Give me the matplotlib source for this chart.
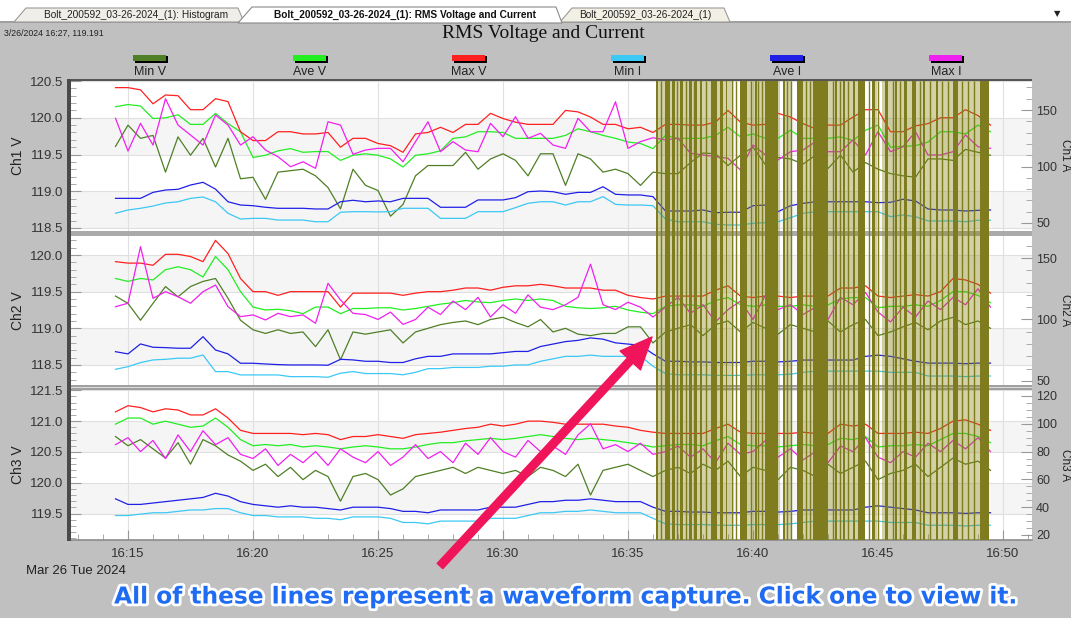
import matplotlib
matplotlib.use("Agg")
import matplotlib.pyplot as plt
import matplotlib.patheffects as pe
from matplotlib.patches import Rectangle, Polygon, FancyArrowPatch
from matplotlib.ticker import MultipleLocator, FixedLocator, FormatStrFormatter
import numpy as np

plt.rcParams['font.family'] = ['Liberation Sans', 'DejaVu Sans']

W, H = 1071, 618

# sample times, minutes past 16:00 (one every 30 s)
t = np.arange(14.5, 49.51, 0.5)

# ---- Ch1 ----
ch1_maxv = [120.41, 120.41, 120.38, 120.19, 120.31, 120.30, 120.11, 120.11, 120.26, 120.22,
            119.81, 119.69, 119.69, 119.81, 119.81, 119.78, 119.78, 119.80, 119.60, 119.72,
            119.72, 119.65, 119.62, 119.53, 119.78, 119.80, 119.87, 119.80, 119.91, 119.91,
            120.06, 119.99, 119.94, 119.91, 119.91, 119.91, 120.10, 120.08, 120.01, 119.91,
            119.91, 119.85, 119.87, 119.80,
            119.91, 119.91, 119.90, 119.90, 119.94, 120.10, 119.94, 119.90, 119.91, 120.06,
            120.01, 119.92, 119.85, 119.90, 119.90, 120.01, 120.11, 120.11, 119.81, 119.81,
            119.89, 119.92, 120.00, 120.00, 120.11, 120.03, 119.90]
ch1_avev = [120.15, 120.18, 120.16, 119.99, 120.00, 120.04, 119.91, 119.91, 120.06, 119.92,
            119.81, 119.46, 119.49, 119.55, 119.58, 119.53, 119.54, 119.54, 119.42, 119.49,
            119.51, 119.49, 119.44, 119.33, 119.49, 119.51, 119.55, 119.72, 119.74, 119.81,
            119.81, 119.80, 119.72, 119.72, 119.72, 119.72, 119.76, 119.85, 119.81, 119.76,
            119.72, 119.67, 119.65, 119.58,
            119.76, 119.72, 119.72, 119.72, 119.76, 119.87, 119.74, 119.78, 119.72, 119.72,
            119.83, 119.72, 119.72, 119.72, 119.74, 119.69, 119.83, 119.90, 119.60, 119.61,
            119.62, 119.67, 119.81, 119.81, 119.78, 119.90, 119.81]
ch1_minv = [119.61, 119.90, 119.72, 119.76, 119.26, 119.74, 119.49, 119.72, 119.33, 119.72,
            119.17, 119.19, 118.89, 119.26, 119.28, 119.30, 119.21, 119.05, 118.76, 119.30,
            119.08, 119.01, 118.66, 118.82, 119.21, 119.35, 119.35, 119.35, 119.53, 119.30,
            119.44, 119.51, 119.42, 119.21, 119.51, 119.51, 119.08, 119.51, 119.44, 119.26,
            119.30, 119.24, 119.08, 119.26,
            119.24, 119.24, 119.39, 119.52, 119.51, 119.35, 119.49, 119.60, 119.36, 119.46,
            119.44, 119.37, 119.49, 119.31, 119.49, 119.26, 119.39, 119.30, 119.24, 119.21,
            119.19, 119.44, 119.44, 119.42, 119.57, 119.53, 119.49]
ch1_maxi = [142.7, 113.7, 138.2, 119.0, 160.0, 136.7, 127.9, 119.0, 145.6, 136.7,
            119.0, 126.4, 114.6, 108.7, 99.8, 104.2, 98.4, 139.6, 136.7, 110.8,
            114.6, 116.1, 116.1, 104.2, 122.0, 139.6, 113.1, 122.0, 114.6, 113.1,
            138.2, 126.4, 144.1, 125.0, 129.4, 119.0, 116.1, 142.7, 130.8, 130.8,
            157.3, 116.1, 122.0, 125.5,
            123.5, 125.0, 111.7, 110.2, 108.7, 107.3, 96.9, 119.0, 110.2, 105.8,
            113.1, 114.6, 122.0, 113.1, 113.1, 123.5, 110.2, 130.8, 113.1, 117.5,
            130.8, 110.2, 110.2, 113.1, 127.9, 117.5, 116.1]
ch1_avei = [71.8, 71.8, 71.8, 77.1, 79.2, 79.8, 83.6, 86.0, 80.0, 68.8,
            65.9, 65.3, 63.9, 63.0, 63.0, 63.0, 62.4, 62.4, 68.8, 70.1,
            68.8, 69.5, 68.8, 71.8, 71.8, 71.8, 63.9, 63.9, 63.9, 70.4,
            70.4, 70.4, 72.4, 77.7, 78.3, 77.7, 75.4, 77.1, 77.1, 82.1,
            75.4, 74.8, 74.8, 73.3,
            60.6, 60.6, 60.6, 61.5, 59.1, 59.5, 59.5, 65.3, 65.9, 60.0,
            65.3, 67.4, 68.8, 68.8, 68.8, 68.8, 68.8, 68.0, 68.3, 71.0,
            69.5, 62.4, 61.5, 61.5, 60.6, 61.2, 61.5]
ch1_mini = [58.6, 61.5, 63.0, 65.0, 67.7, 68.8, 71.8, 73.0, 68.8, 58.6,
            53.5, 54.1, 54.1, 52.6, 52.6, 52.6, 51.1, 51.1, 59.5, 60.0,
            60.0, 59.8, 60.0, 63.0, 63.0, 63.0, 54.1, 54.1, 54.1, 60.0,
            60.0, 60.0, 63.6, 67.4, 68.8, 68.8, 65.9, 68.8, 68.8, 73.3,
            66.5, 65.9, 65.9, 65.3,
            53.5, 51.1, 51.1, 51.1, 48.8, 48.2, 48.2, 49.7, 50.3, 51.1,
            54.7, 58.6, 60.0, 60.0, 60.0, 60.0, 60.0, 60.0, 55.6, 57.1,
            55.6, 51.8, 51.8, 51.8, 51.1, 52.4, 52.4]

# ---- Ch2 ----
ch2_maxv = [119.91, 119.89, 119.89, 119.86, 120.01, 120.01, 119.98, 119.91, 120.20, 120.02,
            119.68, 119.50, 119.50, 119.45, 119.50, 119.50, 119.50, 119.50, 119.29, 119.48,
            119.48, 119.48, 119.48, 119.45, 119.48, 119.50, 119.50, 119.52, 119.55, 119.55,
            119.52, 119.56, 119.58, 119.58, 119.60, 119.58, 119.55, 119.55, 119.55, 119.52,
            119.52, 119.45, 119.42, 119.40,
            119.44, 119.44, 119.44, 119.44, 119.52, 119.58, 119.44, 119.42, 119.44, 119.44,
            119.42, 119.44, 119.44, 119.44, 119.55, 119.55, 119.58, 119.44, 119.42, 119.44,
            119.46, 119.44, 119.50, 119.68, 119.66, 119.60, 119.48]
ch2_avev = [119.68, 119.64, 119.68, 119.66, 119.80, 119.84, 119.80, 119.70, 119.98, 119.80,
            119.50, 119.29, 119.25, 119.26, 119.24, 119.20, 119.29, 119.29, 119.20, 119.27,
            119.27, 119.28, 119.28, 119.25, 119.27, 119.30, 119.33, 119.35, 119.38, 119.36,
            119.35, 119.38, 119.40, 119.38, 119.40, 119.38, 119.30, 119.28, 119.27, 119.28,
            119.30, 119.25, 119.22, 119.20,
            119.30, 119.32, 119.32, 119.30, 119.38, 119.42, 119.32, 119.30, 119.32, 119.30,
            119.30, 119.32, 119.30, 119.32, 119.40, 119.42, 119.42, 119.28, 119.30, 119.30,
            119.32, 119.30, 119.38, 119.50, 119.50, 119.45, 119.35]
ch2_minv = [119.44, 119.34, 119.11, 119.34, 119.57, 119.43, 119.57, 119.64, 119.68, 119.41,
            119.11, 118.98, 118.93, 118.98, 118.93, 118.95, 118.75, 118.98, 118.57, 118.95,
            118.92, 118.95, 118.98, 118.80, 118.95, 119.00, 119.05, 119.08, 119.10, 119.05,
            119.12, 119.15, 119.08, 119.02, 119.12, 118.95, 119.00, 118.92, 118.90, 118.93,
            118.93, 119.02, 119.02, 118.80,
            118.95, 119.00, 119.05, 118.90, 119.05, 119.10, 118.95, 119.08, 119.00, 118.92,
            119.05, 119.00, 118.95, 119.10, 118.95, 119.05, 119.12, 118.90, 118.95, 119.02,
            119.08, 118.98, 119.10, 119.15, 119.05, 119.10, 119.00]
ch2_maxi = [110.4, 113.2, 159.2, 117.2, 122.6, 118.5, 113.2, 122.6, 128.0, 110.4,
            102.3, 103.7, 99.6, 105.0, 102.3, 103.7, 96.9, 129.4, 115.9, 105.0,
            104, 100, 106, 96, 100, 110, 104, 115, 108, 118,
            102, 112, 105, 120, 110, 108, 112, 118, 145, 112,
            108, 114, 110, 102,
            110, 118, 105, 112, 98, 108, 115, 100, 120, 108,
            112, 104, 110, 100, 118, 112, 122, 106, 98, 110,
            102, 115, 108, 118, 112, 125, 110]
ch2_avei = [73.8, 72.0, 80.1, 77.4, 77.1, 76.6, 76.6, 86.0, 75.2, 72.0,
            64.4, 64.4, 63.8, 63.3, 63.0, 63.0, 63.0, 62.8, 67.6, 67.1,
            66, 66, 65, 65, 68, 70, 70, 72, 72, 72,
            72, 73, 74, 74, 78, 80, 82, 83, 85, 84,
            81, 80, 79, 72,
            66, 66, 65.5, 65.5, 65, 65, 65, 66, 66, 65.5,
            66, 67, 67, 67, 67, 67, 70, 71, 70, 68,
            66, 64.5, 64.5, 64.5, 64, 64.5, 64.5]
ch2_mini = [59.5, 61.6, 64.9, 67.1, 67.6, 68.5, 68.5, 71.1, 57.6, 57.6,
            54.9, 54.9, 54.9, 54.9, 53.5, 53.5, 53.5, 53.0, 56.3, 57.6,
            56, 56, 56, 55, 57, 60, 60, 61, 61, 61,
            62, 62, 63, 63, 66, 68, 70, 70, 71, 70,
            70, 70, 70, 62,
            56, 55, 55, 55, 54.5, 54.5, 54.5, 55, 55, 55,
            55.5, 57, 58, 58, 58, 58, 58, 58, 57, 57,
            57, 54, 54, 54, 53.5, 54, 54]

# ---- Ch3 ----
ch3_maxv = [121.15, 121.25, 121.22, 121.15, 121.20, 121.18, 121.10, 121.10, 121.20, 121.05,
            120.85, 120.80, 120.80, 120.80, 120.80, 120.78, 120.80, 120.78, 120.70, 120.75,
            120.75, 120.78, 120.75, 120.72, 120.78, 120.80, 120.82, 120.85, 120.88, 120.90,
            120.95, 120.92, 120.95, 121.00, 121.00, 120.98, 120.95, 120.95, 120.95, 120.95,
            120.92, 120.90, 120.85, 120.82,
            120.80, 120.80, 120.80, 120.80, 120.88, 120.95, 120.82, 120.80, 120.80, 120.80,
            120.80, 120.82, 120.80, 120.80, 120.95, 120.92, 120.95, 120.80, 120.80, 120.80,
            120.82, 120.80, 120.88, 121.00, 121.02, 120.95, 120.85]
ch3_avev = [120.95, 121.05, 121.05, 120.95, 121.00, 120.95, 120.90, 120.92, 121.05, 120.90,
            120.70, 120.60, 120.62, 120.60, 120.62, 120.58, 120.60, 120.58, 120.55, 120.58,
            120.60, 120.58, 120.55, 120.55, 120.58, 120.62, 120.65, 120.65, 120.68, 120.70,
            120.72, 120.70, 120.72, 120.75, 120.78, 120.75, 120.72, 120.70, 120.72, 120.70,
            120.68, 120.65, 120.62, 120.58,
            120.60, 120.62, 120.62, 120.60, 120.68, 120.75, 120.62, 120.60, 120.60, 120.58,
            120.60, 120.62, 120.60, 120.62, 120.72, 120.70, 120.75, 120.58, 120.60, 120.60,
            120.62, 120.60, 120.70, 120.80, 120.80, 120.75, 120.65]
ch3_minv = [120.75, 120.60, 120.70, 120.55, 120.40, 120.65, 120.30, 120.70, 120.60, 120.45,
            120.35, 120.20, 120.30, 120.10, 120.25, 120.05, 120.20, 120.10, 119.70, 120.10,
            120.15, 120.05, 119.80, 119.90, 120.10, 120.15, 120.20, 120.25, 120.15, 120.25,
            120.20, 120.15, 120.20, 120.10, 120.25, 120.20, 120.10, 120.30, 119.80, 120.20,
            120.25, 120.30, 120.20, 120.10,
            120.20, 120.25, 120.15, 120.30, 120.20, 120.35, 120.10, 120.25, 120.20, 120.05,
            120.25, 120.20, 120.10, 120.30, 120.15, 120.25, 120.35, 120.05, 120.15, 120.20,
            120.30, 120.10, 120.25, 120.40, 120.30, 120.35, 120.20]
ch3_maxi = [85, 90, 80, 88, 75, 92, 80, 95, 85, 90,
            78, 75, 82, 70, 78, 72, 80, 70, 82, 76,
            72, 80, 70, 76, 85, 75, 80, 72, 86, 78,
            90, 80, 76, 88, 80, 84, 78, 92, 100, 82,
            85, 80, 86, 78,
            80, 84, 76, 82, 72, 86, 78, 80, 88, 76,
            82, 74, 80, 72, 84, 80, 90, 76, 72, 80,
            76, 86, 80, 88, 82, 90, 80]
ch3_avei = [46, 42, 42, 43, 44, 45, 46, 47, 50, 48,
            44, 42, 41, 40, 41, 40, 40, 39, 38, 40,
            40, 40, 39, 37, 37, 36, 38, 38, 38, 38,
            40, 40, 40, 42, 44, 44, 45, 45, 46, 45,
            44, 44, 44, 40,
            37, 37, 36.5, 36.5, 36, 36, 36, 37, 37, 36.5,
            37, 38, 38, 38, 38, 38, 40, 41, 40, 39,
            38, 36, 36, 36, 35.5, 36, 36]
ch3_mini = [34, 34, 35, 36, 36, 37, 38, 38, 39, 39,
            36, 34, 34, 33, 33, 33, 32, 32, 31, 33,
            33, 33, 32, 29, 29, 28, 30, 30, 30, 30,
            32, 32, 32, 34, 36, 36, 37, 37, 38, 37,
            36, 36, 36, 32,
            28, 27.5, 27.5, 27.5, 27, 27, 27, 27.5, 27.5, 27.5,
            28, 29, 30, 30, 30, 30, 30, 30, 29, 29,
            29, 27, 27, 27, 26.5, 27, 27]

# waveform captures (minutes past 16:00)
capture_blocks = [(36.12, 36.2), (36.48, 36.68), (36.76, 36.88), (37.08, 37.2), (37.44, 37.56),
                  (37.68, 37.76), (37.88, 37.96), (38.32, 38.56), (38.68, 38.8), (38.92, 38.96),
                  (39.16, 39.2), (39.48, 39.76), (40.08, 40.16), (40.48, 41.0), (41.2, 41.28),
                  (41.76, 42.0), (42.4, 43.0), (43.28, 43.36), (43.6, 43.68), (44.0, 44.08),
                  (44.2, 44.48), (44.76, 44.88), (45.28, 45.4), (45.68, 45.76), (46.04, 46.16),
                  (46.36, 46.52), (46.8, 46.88), (47.32, 47.4), (48.0, 48.2), (49.08, 49.44)]
capture_single = [36.32, 36.96, 37.32, 37.64, 38.12, 39.32, 39.92, 40.2, 40.36, 41.36,
                  41.52, 42.12, 42.28, 43.2, 43.48, 43.8, 44.64, 45.0, 45.6, 45.88,
                  46.68, 47.08, 47.56, 47.8, 48.36, 48.6, 48.84]
capture_shade = [(36.12, 39.24), (39.48, 41.08), (41.2, 41.56), (41.76, 44.48),
                 (44.76, 44.96), (45.16, 49.44)]

series_names = ['Min V', 'Ave V', 'Max V', 'Min I', 'Ave I', 'Max I']
series_colors = ['#4f7f26', '#22ee22', '#ff2020', '#3cc8f5', '#2020e6', '#f020f0']
tick_times = [15, 20, 25, 30, 35, 40, 45, 50]
tick_labels = ['16:15', '16:20', '16:25', '16:30', '16:35', '16:40', '16:45', '16:50']

channels = [
    ('Ch1', ch1_minv, ch1_avev, ch1_maxv, ch1_mini, ch1_avei, ch1_maxi),
    ('Ch2', ch2_minv, ch2_avev, ch2_maxv, ch2_mini, ch2_avei, ch2_maxi),
    ('Ch3', ch3_minv, ch3_avev, ch3_maxv, ch3_mini, ch3_avei, ch3_maxi),
]
v_lims = [(118.459, 120.514), (118.226, 120.26), (119.07, 121.505)]
i_lims = [(42.9, 176.6), (46.7, 167.9), (16.4, 124.3)]
i_steps = [(50, 10), (50, 10), (20, 5)]
shade_bands = [[(118.5, 119.0), (119.5, 120.0)],
               [(118.5, 119.0), (119.5, 120.0)],
               [(119.5, 120.0), (120.5, 121.0)]]
panel_px = [(80, 231), (236, 385), (390, 540)]
x_lim = (12.68, 51.16)
PX0, PX1 = 70, 1032

fig = plt.figure(figsize=(W / 100, H / 100), dpi=100, facecolor='#c0c0c0')


def fx(x):
    return x / W


def fy(y):
    return 1 - y / H


def axes_px(x0, y0, x1, y1, **kw):
    return fig.add_axes([fx(x0), fy(y1), (x1 - x0) / W, (y1 - y0) / H], **kw)


def rect_px(x0, y0, x1, y1, **kw):
    fig.add_artist(Rectangle((fx(x0), fy(y1)), (x1 - x0) / W, (y1 - y0) / H,
                             transform=fig.transFigure, **kw))


def poly_px(pts, **kw):
    fig.add_artist(Polygon([(fx(x), fy(y)) for x, y in pts], closed=True,
                           transform=fig.transFigure, **kw))


# tab strip
rect_px(0, 0, W, 22, fc='white', ec='none', zorder=1)
rect_px(0, 21.5, W, 22.5, fc='#a0a0a0', ec='none', zorder=2)
poly_px([(14, 22), (26, 8), (238, 8), (244, 22)], fc='#efeee8', ec='#9a9a9a', lw=0.8, zorder=2)
poly_px([(560, 22), (572, 8), (724, 8), (730, 22)], fc='#f2f0e4', ec='#9a9a9a', lw=0.8, zorder=2)
poly_px([(238, 23), (252, 7), (556, 7), (562, 23)], fc='white', ec='#8a8a8a', lw=0.8, zorder=3)
fig.text(fx(136), fy(15), 'Bolt_200592_03-26-2024_(1): Histogram', fontsize=7.3,
         ha='center', va='center', color='#222', zorder=4)
fig.text(fx(405), fy(15), 'Bolt_200592_03-26-2024_(1): RMS Voltage and Current', fontsize=7.3,
         fontweight='bold', ha='center', va='center', color='#111', zorder=4)
fig.text(fx(645), fy(15), 'Bolt_200592_03-26-2024_(1)', fontsize=7.3,
         ha='center', va='center', color='#222', zorder=4)
fig.text(fx(1057), fy(14), '\u25bc', fontsize=6, ha='center', va='center',
         family='DejaVu Sans', color='#222', zorder=4)

fig.text(fx(4), fy(33), '3/26/2024 16:27, 119.191', fontsize=6.3, va='center', color='#222')
fig.text(fx(543), fy(34), 'RMS Voltage and Current', family='Liberation Serif',
         fontsize=14, ha='center', va='center', color='#111')

# legend
legend_x = [150, 310, 469, 628, 787, 946]
for name, col, xc in zip(series_names, series_colors, legend_x):
    rect_px(xc - 15, 56, xc + 18, 62.5, fc='black', ec='none', zorder=3)
    rect_px(xc - 17, 54.5, xc + 16, 60.5, fc=col, ec='none', zorder=4)
    fig.text(fx(xc), fy(72), name, fontsize=9, ha='center', va='center', color='#222')

# panels
for i, (name, minv, avev, maxv, mini, avei, maxi) in enumerate(channels):
    top, bot = panel_px[i]
    ax = axes_px(PX0, top, PX1, bot)
    ax.set_facecolor('white')
    for lo, hi in shade_bands[i]:
        ax.axhspan(lo, hi, color='#f5f5f5', lw=0, zorder=0)
    ax.set_xlim(*x_lim)
    ax.set_ylim(*v_lims[i])
    ax.set_axisbelow(True)
    ax.grid(True, which='major', color='#e0e0e0', lw=0.8)
    ax.plot(t, minv, color=series_colors[0], lw=0.9)
    ax.plot(t, avev, color=series_colors[1], lw=0.9)
    ax.plot(t, maxv, color=series_colors[2], lw=0.9)
    ax.yaxis.set_major_locator(MultipleLocator(0.5))
    ax.yaxis.set_minor_locator(MultipleLocator(0.1))
    ax.yaxis.set_major_formatter(FormatStrFormatter('%.1f'))
    ax.tick_params(axis='y', which='major', direction='in', length=8, width=0.8,
                   color='#999999', labelsize=9.5, labelcolor='#333333', pad=5)
    ax.tick_params(axis='y', which='minor', direction='in', length=4, width=0.7, color='#aaaaaa')
    ax.xaxis.set_major_locator(FixedLocator(tick_times))
    ax.xaxis.set_minor_locator(MultipleLocator(1))
    if i < 2:
        ax.tick_params(axis='x', which='both', length=0, labelbottom=False)
    else:
        ax.set_xticklabels(tick_labels)
        ax.tick_params(axis='x', which='major', direction='in', length=7, width=0.8,
                       color='#999999', labelsize=9.5, labelcolor='#333333', pad=6)
        ax.tick_params(axis='x', which='minor', direction='in', length=4, width=0.7,
                       color='#aaaaaa')
    for s in ['top', 'right', 'bottom', 'left']:
        ax.spines[s].set_visible(False)
    if i == 2:
        ax.spines['bottom'].set_visible(True)
        ax.spines['bottom'].set_color('#8c8c8c')
        ax.spines['bottom'].set_linewidth(1.2)

    ax2 = ax.twinx()
    ax2.set_ylim(*i_lims[i])
    ax2.plot(t, mini, color=series_colors[3], lw=0.9)
    ax2.plot(t, avei, color=series_colors[4], lw=0.9)
    ax2.plot(t, maxi, color=series_colors[5], lw=0.9)
    ax2.yaxis.set_major_locator(MultipleLocator(i_steps[i][0]))
    ax2.yaxis.set_minor_locator(MultipleLocator(i_steps[i][1]))
    ax2.tick_params(axis='y', which='major', direction='in', length=8, width=0.8,
                    color='#999999', labelsize=9, labelcolor='#333333', pad=3)
    ax2.tick_params(axis='y', which='minor', direction='in', length=4, width=0.7, color='#aaaaaa')
    for s in ax2.spines.values():
        s.set_visible(False)

    yc = (top + bot) / 2
    fig.text(fx(18), fy(yc), name + ' V', rotation=90, fontsize=10, ha='center',
             va='center', color='#222')
    fig.text(fx(1065), fy(yc), name + ' A', rotation=270, fontsize=8.5, ha='center',
             va='center', color='#222')

# separators between the panels and frame
rect_px(PX0, 231, PX1, 236, fc='#aaaaaa', ec='none', zorder=2)
rect_px(PX0, 385, PX1, 390, fc='#dcdcdc', ec='none', zorder=2)
rect_px(PX0, 385, PX1, 386.5, fc='#a0a0a0', ec='none', zorder=2)
rect_px(PX0, 388.3, PX1, 389.8, fc='#a0a0a0', ec='none', zorder=2)
rect_px(PX0, 79, PX1, 81, fc='#555555', ec='none', zorder=6)
rect_px(67, 79, 70.5, 541, fc='#4a4a4a', ec='none', zorder=6)

# waveform capture markers, over all three panels
ov = axes_px(PX0, 81, PX1, 540, zorder=5)
ov.set_xlim(*x_lim)
ov.set_ylim(0, 1)
ov.axis('off')
for a, b in capture_shade:
    ov.axvspan(a, b, color='#808000', alpha=0.35, lw=0)
for a, b in capture_blocks:
    ov.axvspan(a, b, color='#7f7b1f', lw=0)
ov.vlines(capture_single, 0, 1, color='#7f7b1f', lw=1.0)

fig.text(fx(26), fy(571), 'Mar 26 Tue 2024', fontsize=9.5, va='center', color='#222')

# call-out
arrow = FancyArrowPatch((fx(440), fy(566)), (fx(652), fy(337)), transform=fig.transFigure,
                        arrowstyle='simple,head_length=2.3,head_width=2.0,tail_width=0.55',
                        mutation_scale=10, color='#f0145a', shrinkA=0, shrinkB=0, zorder=10)
fig.add_artist(arrow)

msg = fig.text(fx(566), fy(597), 'All of these lines represent a waveform capture. Click one to view it.',
               family='DejaVu Sans', fontweight='bold', fontsize=16, color='#1f6cf2',
               ha='center', va='center', zorder=11,
               path_effects=[pe.withStroke(linewidth=4, foreground='white')])
renderer = fig.canvas.get_renderer()
w = msg.get_window_extent(renderer).width
msg.set_fontsize(16 * 905 / w)

fig.savefig('out.png', dpi=100, facecolor=fig.get_facecolor())
